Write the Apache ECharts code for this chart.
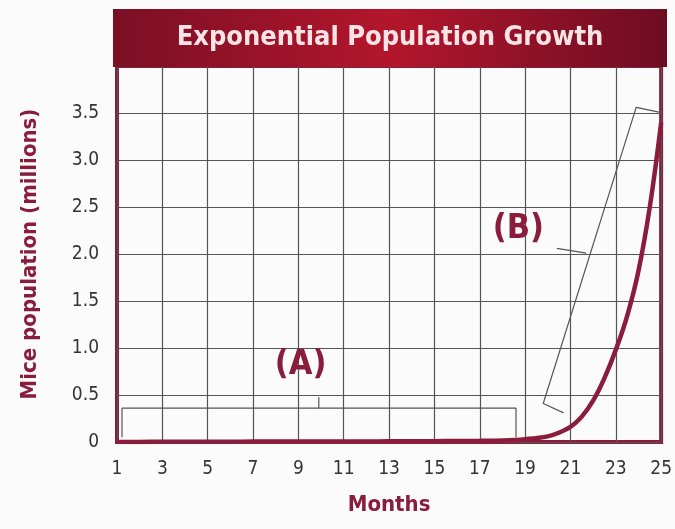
<!DOCTYPE html>
<html>
<head>
<meta charset="utf-8">
<script src="https://cdn.jsdelivr.net/npm/echarts@6/dist/echarts.min.js"></script>
<style>
  html, body { margin: 0; padding: 0; background: #fbfbfb; }
  #chart { width: 675px; height: 529px; }
</style>
</head>
<body>
<div id="chart"></div>
<script>
// data
const months = [1, 2, 3, 4, 5, 6, 7, 8, 9, 10, 11, 12, 13, 14, 15, 16, 17, 18, 19, 20, 20.5, 21, 21.5, 22, 22.5, 23, 23.5, 24, 24.5, 25]
const mice = [0.001, 0.001, 0.002, 0.002, 0.003, 0.003, 0.004, 0.004, 0.005, 0.005, 0.006, 0.006, 0.007, 0.008, 0.009, 0.01, 0.012, 0.016, 0.03, 0.06, 0.1, 0.16, 0.27, 0.44, 0.68, 0.98, 1.34, 1.82, 2.5, 3.4]
// annotation brackets, in data units (month, millions)
const bracketA = [[1.22, 0.05], [1.22, 0.36], [18.6, 0.36], [18.6, 0.05]]
const bracketAtick = [[9.9, 0.36], [9.9, 0.48]]
const bracketB = [[20.7, 0.31], [19.8, 0.41], [23.9, 3.56], [24.9, 3.51]]
const bracketBtick = [[21.7, 2.01], [20.4, 2.06]]
const labelA = [9.1, 0.82]
const labelB = [18.7, 2.26]

const maroon = '#8a1c3c'
const font = "'Liberation Sans Narrow', 'DejaVu Sans Condensed', 'Open Sans', sans-serif"

const bracketStyle = { color: '#555', width: 1.2 }
const bracket = (data) => ({
  type: 'line',
  data: data,
  symbol: 'none',
  silent: true,
  lineStyle: bracketStyle,
  z: 3
})

const chart = echarts.init(document.getElementById('chart'))
chart.setOption({
  animation: false,
  backgroundColor: '#fbfbfb',
  grid: {
    left: 117,
    right: 13,
    top: 66,
    bottom: 87,
    show: true,
    borderColor: maroon,
    borderWidth: 4
  },
  graphic: [
    {
      type: 'rect',
      shape: { x: 113, y: 9, width: 554, height: 58 },
      style: {
        fill: new echarts.graphic.LinearGradient(0, 0, 1, 0, [
          { offset: 0, color: '#7a0f24' },
          { offset: 0.5, color: '#b3162c' },
          { offset: 1, color: '#6d0d22' }
        ])
      },
      z: 10
    },
    {
      type: 'text',
      x: 390,
      y: 38,
      style: {
        text: 'Exponential Population Growth',
        fill: '#fbe3e6',
        font: 'bold 27px ' + font,
        align: 'center',
        verticalAlign: 'middle'
      },
      z: 11
    }
  ],
  xAxis: {
    type: 'value',
    min: 1,
    max: 25,
    interval: 2,
    name: 'Months',
    nameLocation: 'middle',
    nameGap: 52,
    nameTextStyle: { color: maroon, fontSize: 22, fontWeight: 'bold', fontFamily: font },
    axisLine: { show: false },
    axisTick: { show: false },
    axisLabel: { color: '#333', fontSize: 19, margin: 18, fontFamily: font },
    splitLine: { lineStyle: { color: '#555', width: 1.2 } }
  },
  yAxis: {
    type: 'value',
    min: 0,
    max: 4,
    interval: 0.5,
    name: 'Mice population (millions)',
    nameLocation: 'middle',
    nameGap: 76,
    nameTextStyle: { color: maroon, fontSize: 22, fontWeight: 'bold', fontFamily: font },
    axisLine: { show: false },
    axisTick: { show: false },
    axisLabel: {
      color: '#333',
      fontSize: 19,
      margin: 18,
      fontFamily: font,
      formatter: (v) => (v === 0 ? '0' : v >= 4 ? '' : v.toFixed(1))
    },
    splitLine: { lineStyle: { color: '#555', width: 1.2 } }
  },
  series: [
    bracket(bracketA),
    bracket(bracketAtick),
    bracket(bracketB),
    bracket(bracketBtick),
    {
      type: 'scatter',
      symbolSize: 0,
      silent: true,
      itemStyle: { opacity: 1 },
      data: [
        { value: labelA, label: { formatter: '(A)' } },
        { value: labelB, label: { formatter: '(B)' } }
      ],
      label: {
        show: true,
        position: 'inside',
        color: maroon,
        opacity: 1,
        fontSize: 34,
        fontWeight: 'bold',
        fontFamily: font
      },
      z: 4
    },
    {
      type: 'line',
      data: months.map((m, i) => [m, mice[i]]),
      smooth: 0.4,
      symbol: 'none',
      lineStyle: { color: maroon, width: 4.5 },
      z: 5
    }
  ]
})
</script>
</body>
</html>
